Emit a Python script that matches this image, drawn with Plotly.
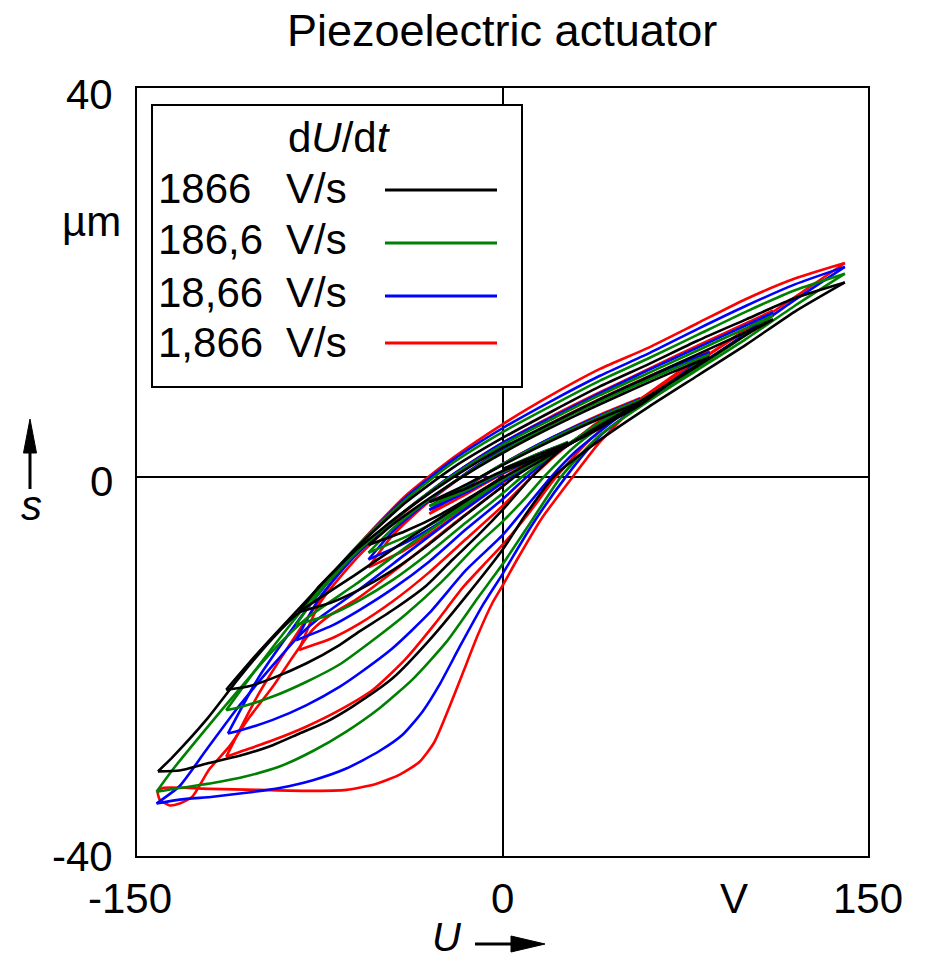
import plotly.graph_objects as go

# ---------------- data (U in V, s in µm), branches separated by None ----------------
black_U = [0, -20, -40, -60, -83.3, -94.3, -107.9, -121.6, -135.3, -141.4, None,
           -141.4, -132.5, -121.6, -107.9, -94.3, -83.3, -72.3, -61.4, -45, -30, -15, 0, 10, 21, 40, 60, 80, 100, 120, 140.5, None,
           140.5, 120, 100, 80, 60, 40, 20, 0, -20, -40, -60, -80, -100, -113.4, None,
           -113.4, -105, -94.3, -80.6, -66.9, -58.7, -45, -31.3, -20.4, -10, 0, 12, 25, 40, 60, 80, 100, 111, None,
           111, 100, 80, 60, 40, 20, 0, -20, -40, -60, -75, -83.5, None,
           -83.5, -70, -58.7, -45, -30, -15, 0, 5, 20, 40, 56.5, 70, 85, None,
           85, 70, 50, 30, 10, -10, -30, -45, -55, None,
           -55, -40, -25, -10, 0, 15, 27, 40, 56.5, None,
           56.5, 40, 20, 0, -15, -30, None,
           -30, -15, 0, 15, 27, None,
           27, 15, 0]
black_s = [0.0, -3.3, -6.6, -10.0, -13.9, -16.6, -20.6, -25.0, -28.8, -30.3, None,
           -30.3, -30.2, -29.5, -28.7, -27.6, -26.4, -25.2, -23.6, -20.7, -16.8, -12.3, -7.5, -3.7, 0.0, 3.8, 7.2, 10.4, 13.6, 17.0, 20.0, None,
           20.0, 18.4, 16.2, 14.0, 11.6, 9.3, 6.7, 4.0, 1.0, -2.7, -7.3, -12.6, -18.0, -21.9, None,
           -21.9, -21.6, -20.7, -19.2, -17.3, -15.9, -13.7, -11.2, -8.5, -6.0, -3.4, 0.0, 3.0, 5.0, 8.3, 11.4, 14.6, 16.2, None,
           16.2, 14.9, 12.6, 10.3, 8.0, 5.5, 3.0, 0.0, -3.5, -7.5, -11.2, -13.9, None,
           -13.9, -12.9, -11.6, -9.6, -6.9, -3.9, -1.0, 0.0, 2.3, 5.1, 7.4, 9.9, 12.3, None,
           12.3, 10.8, 8.6, 6.3, 3.8, 1.0, -2.2, -4.9, -7.0, None,
           -7.0, -5.6, -3.8, -1.6, -0.1, 1.9, 3.3, 5.3, 7.7, None,
           7.7, 6.0, 3.7, 1.2, -0.8, -2.6, None,
           -2.6, -1.2, 0.6, 2.0, 3.5, None,
           3.5, 2.3, 0.8]

green_U = [0, -20, -40, -60, -80.6, -94.3, -107.9, -121.6, -135.3, -142, None,
           -142, -132.5, -118.9, -105.2, -91.5, -77.8, -64.1, -50.5, -36.8, -23.1, -10, 0, 12, 24, 40, 60, 80, 100, 120, 140.5, None,
           140.5, 120, 100, 80, 60, 40, 20, 0, -20, -40, -60, -80, -100, -113.4, None,
           -113.4, -107.9, -94.3, -80.6, -66.9, -53.2, -40, -25, -10, 0, 10, 17, 30, 50, 70, 90, 111, None,
           111, 100, 80, 60, 40, 20, 0, -20, -40, -60, -75, -84.7, None,
           -84.7, -70, -58.7, -45, -30, -15, 0, 8, 20, 40, 56.5, 70, 85, None,
           85, 70, 50, 30, 10, -10, -30, -45, -55, None,
           -55, -40, -25, -10, 0, 15, 27, 40, 56.5, None,
           56.5, 40, 20, 0, -15, -30, None,
           -30, -15, 0, 15, 27, None,
           27, 15, 0]
green_s = [-0.3, -3.8, -7.3, -11.0, -14.6, -17.9, -21.8, -25.9, -30.1, -32.4, None,
           -32.4, -32.0, -31.5, -30.8, -29.8, -28.2, -26.2, -23.8, -20.8, -17.0, -12.4, -9.0, -4.5, 0.0, 4.3, 7.8, 11.0, 14.2, 17.6, 20.9, None,
           20.9, 19.2, 17.0, 14.6, 12.2, 9.9, 7.3, 4.6, 1.5, -2.4, -7.2, -13.0, -19.4, -24.0, None,
           -24.0, -23.7, -22.6, -21.1, -19.3, -16.8, -14.2, -10.8, -6.9, -4.6, -2.0, 0.0, 3.2, 6.9, 9.7, 12.9, 16.6, None,
           16.6, 15.3, 13.0, 10.7, 8.4, 5.9, 3.3, 0.2, -3.5, -7.8, -11.8, -15.2, None,
           -15.2, -14.1, -12.7, -10.6, -7.8, -4.7, -1.7, 0.0, 2.2, 5.4, 7.6, 9.8, 12.6, None,
           12.6, 11.1, 8.9, 6.6, 4.0, 1.1, -2.3, -5.3, -7.8, None,
           -7.8, -6.2, -4.3, -1.9, -0.3, 1.8, 3.4, 5.6, 7.9, None,
           7.9, 6.2, 3.9, 1.3, -0.9, -3.0, None,
           -3.0, -1.4, 0.5, 2.1, 3.6, None,
           3.6, 2.4, 0.8]

blue_U = [0, -20, -40, -60, -75.1, -83.3, -94.3, -107.9, -121.6, -132.5, -142, None,
          -142, -132.5, -118.9, -105.2, -91.5, -77.8, -64.1, -50.5, -40.9, -32.7, -25.9, -17.6, -8.1, 0, 12, 26, 40, 60, 80, 100, 120, 140.5, None,
          140.5, 120, 100, 80, 60, 40, 20, 0, -20, -40, -60, -80, -100, -112.7, None,
          -112.7, -107.9, -94.3, -80.6, -66.9, -58.7, -45, -30, -15, 0, 10, 20, 30, 50, 70, 90, 111, None,
          111, 100, 80, 60, 40, 20, 0, -20, -40, -60, -75, -84.7, None,
          -84.7, -70, -58.7, -45, -30, -15, 0, 10, 20, 40, 56.5, 70, 85, None,
          85, 70, 50, 30, 10, -10, -30, -45, -55, None,
          -55, -40, -25, -10, 0, 15, 27, 40, 56.5, None,
          56.5, 40, 20, 0, -15, -30, None,
          -30, -15, 0, 15, 27, None,
          27, 15, 0]
blue_s = [-0.6, -4.2, -8.0, -11.8, -14.5, -16.3, -19.4, -23.5, -28.1, -31.8, -33.6, None,
          -33.6, -33.2, -32.9, -32.5, -32.0, -31.2, -30.0, -28.2, -26.5, -24.1, -21.4, -17.5, -13.2, -10.0, -5.0, 0.0, 4.2, 8.0, 11.4, 14.7, 18.2, 21.6, None,
          21.6, 19.8, 17.6, 15.2, 12.7, 10.4, 7.8, 5.0, 1.8, -2.2, -7.3, -13.5, -20.6, -26.4, None,
          -26.4, -26.1, -25.0, -23.5, -21.6, -20.2, -17.6, -14.0, -9.6, -6.0, -3.0, 0.0, 2.6, 6.6, 9.6, 13.0, 16.9, None,
          16.9, 15.6, 13.3, 11.0, 8.6, 6.1, 3.5, 0.3, -3.5, -8.0, -12.4, -16.8, None,
          -16.8, -15.3, -13.7, -11.5, -8.7, -5.4, -2.3, 0.0, 2.1, 5.4, 7.7, 9.9, 12.8, None,
          12.8, 11.3, 9.1, 6.7, 4.1, 1.2, -2.4, -5.6, -8.5, None,
          -8.5, -6.8, -4.6, -2.1, -0.5, 1.7, 3.35, 5.6, 8.0, None,
          8.0, 6.3, 4.0, 1.3, -1.0, -3.4, None,
          -3.4, -1.6, 0.4, 2.1, 3.5, None,
          3.5, 2.4, 0.7]

red_U = [0, -20, -40, -60, -70, -77.8, -86, -94.3, -103.8, -112, -120.4, -127.3, -132.5, -136.6, -140.7, -141.6, None,
         -141.6, -139.4, -120, -100, -80, -64, -52, -42, -34, -28, -22, -16, -10, -4, 0, 6, 16, 28.8, 40, 56, 80, 100, 120, 140.5, None,
         140.5, 120, 100, 80, 60, 40, 20, 0, -20, -40, -60, -80, -100, -113.4, None,
         -113.4, -107.9, -94.3, -80.6, -66.9, -53.2, -40, -28, -16, -6, 0, 10, 22, 35, 50, 70, 90, 111, None,
         111, 100, 80, 60, 40, 20, 0, -20, -40, -60, -75, -83.5, None,
         -83.5, -70, -58.7, -45, -30, -15, 0, 12, 25, 40, 56.5, 70, 85, None,
         85, 70, 50, 30, 10, -10, -30, -45, -55, None,
         -55, -40, -25, -10, 0, 15, 27, 40, 56.5, None,
         56.5, 40, 20, 0, -15, -30, None,
         -30, -15, 0, 15, 27, None,
         27, 15, 0]
red_s = [-1.0, -4.8, -8.8, -12.6, -14.1, -15.7, -18.5, -21.6, -24.7, -27.7, -30.1, -32.9, -33.6, -33.8, -33.2, -32.4, None,
         -32.4, -32.0, -32.1, -32.2, -32.3, -32.2, -31.6, -30.6, -29.3, -27.3, -23.8, -20.0, -16.2, -12.9, -11.2, -8.5, -4.3, 0.0, 3.6, 7.6, 11.8, 15.1, 18.5, 22.0, None,
         22.0, 20.4, 18.3, 15.8, 13.3, 11.1, 8.4, 5.4, 2.0, -2.0, -7.3, -14.5, -22.3, -28.8, None,
         -28.8, -28.3, -27.1, -25.7, -24.0, -21.9, -18.8, -15.2, -11.3, -8.6, -7.0, -4.0, 0.0, 3.6, 6.8, 10.2, 13.5, 17.1, None,
         17.1, 15.8, 13.5, 11.1, 8.7, 6.2, 3.5, 0.3, -3.6, -8.4, -13.0, -17.8, None,
         -17.8, -16.6, -15.1, -12.8, -9.8, -6.4, -3.0, 0.0, 2.9, 5.6, 8.0, 10.4, 12.9, None,
         12.9, 11.4, 9.2, 6.8, 4.2, 1.2, -2.5, -6.0, -9.3, None,
         -9.3, -7.5, -5.0, -2.3, -0.6, 1.7, 3.3, 5.8, 8.1, None,
         8.1, 6.4, 4.0, 1.3, -1.1, -3.8, None,
         -3.8, -1.8, 0.3, 2.0, 3.5, None,
         3.5, 2.3, 0.6]

series_names = ["1866", "186,6", "18,66", "1,866"]
series_colors = ["#000000", "#008000", "#0000ff", "#ff0000"]

x_tick_vals = [-150, 0, 150]
x_tick_text = ["-150", "0", "150"]
y_tick_text = ["40", "0", "-40"]

title_text = "Piezoelectric actuator"
legend_title = "d<i>U</i>/d<i>t</i>"
unit_text = "V/s"

# ---------------- layout helpers ----------------
W, H = 930, 962
L, R, T, B = 137, 868, 88, 856
FONT = "Liberation Sans, Arial, sans-serif"
FS = 42


def pxp(px, py):
    return (px - L) / (R - L), (B - py) / (B - T)


fig = go.Figure()
draw_order = [(red_U, red_s, series_colors[3]),
              (blue_U, blue_s, series_colors[2]),
              (green_U, green_s, series_colors[1]),
              (black_U, black_s, series_colors[0])]
for U, s, c in draw_order:
    fig.add_trace(go.Scatter(x=U, y=s, mode="lines", connectgaps=False,
                             line=dict(color=c, width=2.6, shape="spline", smoothing=0.6),
                             showlegend=False, hoverinfo="skip"))

axis_common = dict(showgrid=False, zeroline=True, zerolinecolor="black", zerolinewidth=2,
                   showline=True, mirror=True, linecolor="black", linewidth=2,
                   showticklabels=False, ticks="", fixedrange=True)
fig.update_layout(
    width=W, height=H,
    margin=dict(l=L, r=W - R, t=T, b=H - B, pad=0),
    paper_bgcolor="white", plot_bgcolor="white", showlegend=False,
    xaxis=dict(range=[-150, 150], **axis_common),
    yaxis=dict(range=[-39, 40], **axis_common),
    font=dict(family=FONT, size=FS, color="black"),
)

shapes = []
annotations = []


def txt(text, px, py, xanchor="center", size=FS):
    x, y = pxp(px, py)
    annotations.append(dict(text=text, x=x, y=y, xref="paper", yref="paper",
                            xanchor=xanchor, yanchor="middle", showarrow=False,
                            font=dict(family=FONT, size=size, color="black")))


# title
txt(title_text, 502, 30, size=45)

# x tick labels
xt_y = pxp(0, 898)[1]
for v, t in zip(x_tick_vals, x_tick_text):
    annotations.append(dict(text=t, x=v, xref="x", y=xt_y, yref="paper", xanchor="center",
                            yanchor="middle", showarrow=False, xshift=-7 if t.startswith("-") else 0,
                            font=dict(family=FONT, size=FS, color="black")))
# y tick labels
for t, py in zip(y_tick_text, [94, 481.5, 856]):
    txt(t, 115, py, xanchor="right")

# units
txt("µm", 91, 221)
txt("V", 734, 898)

# axis symbols
txt("<i>s</i>", 31, 506)
txt("<i>U</i>", 447, 937, size=40)


def line_px(x0, y0, x1, y1, color="black", width=3):
    a, b = pxp(x0, y0)
    c, d = pxp(x1, y1)
    shapes.append(dict(type="line", xref="paper", yref="paper", x0=a, y0=b, x1=c, y1=d,
                       line=dict(color=color, width=width), layer="above"))


def tri_px(pts):
    p = [pxp(*q) for q in pts]
    path = "M {} {} L {} {} L {} {} Z".format(p[0][0], p[0][1], p[1][0], p[1][1], p[2][0], p[2][1])
    shapes.append(dict(type="path", xref="paper", yref="paper", path=path,
                       fillcolor="black", line=dict(color="black", width=1), layer="above"))


# s arrow (up)
line_px(30, 489, 30, 452)
tri_px([(23.5, 453), (36.5, 453), (30, 419)])
# U arrow (right)
line_px(475, 944, 512, 944)
tri_px([(511, 936), (511, 952), (545, 944)])

# legend box
x0, y0 = pxp(152, 105)
x1, y1 = pxp(522, 387)
shapes.append(dict(type="rect", xref="paper", yref="paper", x0=x0, y0=y1, x1=x1, y1=y0,
                   fillcolor="white", line=dict(color="black", width=2), layer="above"))
txt(legend_title, 339, 137)
row_y = [188, 240, 292, 342]
line_y = [190, 243, 296, 343]
for name, c, ry, ly in zip(series_names, series_colors, row_y, line_y):
    txt(name, 156, ry, xanchor="left")
    txt(unit_text, 284, ry, xanchor="left")
    line_px(385, ly, 497, ly, color=c, width=3)

fig.update_layout(shapes=shapes, annotations=annotations)
fig.write_html("out.html")
